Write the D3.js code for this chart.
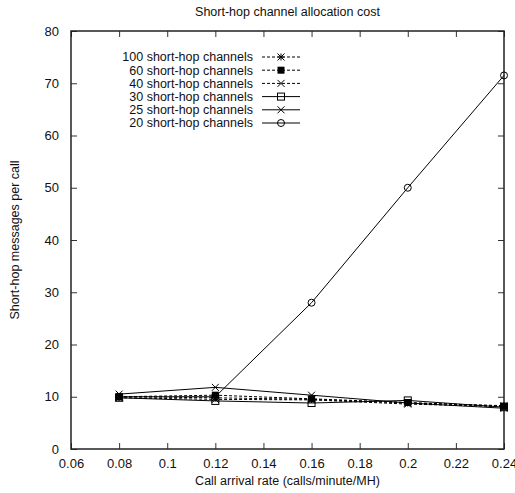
<!DOCTYPE html>
<html>
<head>
<meta charset="utf-8">
<script src="https://cdn.jsdelivr.net/npm/d3@7"></script>
<style>
  body { margin: 0; background: #fff; }
  text { font-family: "Liberation Sans", Arial, sans-serif; }
</style>
</head>
<body>
<div id="chart-area"></div>
<script>
// DATA
const rates = [0.08, 0.12, 0.16, 0.20, 0.24]
const seriesNames = ["100 short-hop channels", "60 short-hop channels", "40 short-hop channels",
  "30 short-hop channels", "25 short-hop channels", "20 short-hop channels"]
const ch100 = [10.0, 9.8, 9.5, 8.8, 8.3]
const ch60 = [10.0, 10.3, 9.6, 8.9, 8.2]
const ch40 = [9.8, 9.5, 9.4, 8.6, 8.1]
const ch30 = [9.8, 9.2, 8.8, 9.3, 8.0]
const ch25 = [10.5, 11.8, 10.3, 8.8, 7.8]
const ch20 = [10.0, 10.0, 28.0, 50.0, 71.5]
const xTicks = [0.06, 0.08, 0.1, 0.12, 0.14, 0.16, 0.18, 0.2, 0.22, 0.24]
const yTicks = [0, 10, 20, 30, 40, 50, 60, 70, 80]

const series = [
  { name: seriesNames[0], values: ch100, dash: "3,2", marker: "star" },
  { name: seriesNames[1], values: ch60, dash: "3,2", marker: "fsquare" },
  { name: seriesNames[2], values: ch40, dash: "3,2", marker: "cross" },
  { name: seriesNames[3], values: ch30, dash: null, marker: "osquare" },
  { name: seriesNames[4], values: ch25, dash: null, marker: "cross" },
  { name: seriesNames[5], values: ch20, dash: null, marker: "circle" }
]

// CHART AREA
const W = 515, H = 493
const margin = { left: 71, right: 11, top: 31, bottom: 44 }
const width = W - margin.left - margin.right
const height = H - margin.top - margin.bottom

const svg = d3.select("#chart-area").append("svg")
  .attr("width", W).attr("height", H)

const chart = svg.append("g")
  .attr("transform", "translate(" + margin.left + "," + margin.top + ")")

const x = d3.scaleLinear().domain([0.06, 0.24]).range([0, width])
const y = d3.scaleLinear().domain([0, 80]).range([height, 0])

// ticks inward on all four sides, gnuplot style
const tick = 6
chart.append("g").attr("transform", "translate(0," + height + ")")
  .call(d3.axisBottom(x).tickValues(xTicks).tickSize(-tick).tickPadding(10).tickFormat(d3.format("")))
chart.append("g").call(d3.axisTop(x).tickValues(xTicks).tickSize(-tick).tickFormat(""))
chart.append("g")
  .call(d3.axisLeft(y).tickValues(yTicks).tickSize(-tick).tickPadding(12))
chart.append("g").attr("transform", "translate(" + width + ",0)")
  .call(d3.axisRight(y).tickValues(yTicks).tickSize(-tick).tickFormat(""))

chart.selectAll(".domain").remove()
chart.selectAll(".tick line").attr("stroke", "#333")
chart.selectAll(".tick text").attr("font-size", "13px").attr("fill", "#111")
  .attr("font-family", "Liberation Sans, Arial, sans-serif")

chart.append("rect")
  .attr("width", width).attr("height", height)
  .attr("fill", "none").attr("stroke", "#222").attr("stroke-width", 1.5)

// MARKERS
function drawMarker(g, kind, cx, cy) {
  const s = 3.5
  if (kind === "star") {
    g.append("path").attr("d",
      `M${cx - s},${cy - s}L${cx + s},${cy + s}M${cx - s},${cy + s}L${cx + s},${cy - s}M${cx},${cy - s}L${cx},${cy + s}M${cx - s},${cy}L${cx + s},${cy}`)
      .attr("stroke", "#000").attr("stroke-width", 1)
  } else if (kind === "cross") {
    g.append("path").attr("d",
      `M${cx - s},${cy - s}L${cx + s},${cy + s}M${cx - s},${cy + s}L${cx + s},${cy - s}`)
      .attr("stroke", "#000").attr("stroke-width", 1)
  } else if (kind === "fsquare") {
    g.append("rect").attr("x", cx - s).attr("y", cy - s).attr("width", 2 * s).attr("height", 2 * s)
      .attr("fill", "#000")
  } else if (kind === "osquare") {
    g.append("rect").attr("x", cx - s).attr("y", cy - s).attr("width", 2 * s).attr("height", 2 * s)
      .attr("fill", "none").attr("stroke", "#000").attr("stroke-width", 1)
  } else if (kind === "circle") {
    g.append("circle").attr("cx", cx).attr("cy", cy).attr("r", s)
      .attr("fill", "none").attr("stroke", "#000").attr("stroke-width", 1)
  }
}

// LINES
const line = d3.line()
  .x((d, i) => x(rates[i]))
  .y(d => y(d))

series.forEach(s => {
  const g = chart.append("g")
  g.append("path")
    .attr("d", line(s.values))
    .attr("fill", "none")
    .attr("stroke", "#000")
    .attr("stroke-width", 1)
    .attr("stroke-dasharray", s.dash)
  s.values.forEach((v, i) => drawMarker(g, s.marker, x(rates[i]), y(v)))
})

// LEGEND
const legend = chart.append("g").attr("transform", "translate(0,26)")
series.forEach((s, i) => {
  const ly = i * 13.2
  const g = legend.append("g")
  g.append("text")
    .attr("x", 182).attr("y", ly).attr("dy", "0.35em")
    .attr("text-anchor", "end").attr("font-size", "12.5px").attr("fill", "#111")
    .text(s.name)
  g.append("line")
    .attr("x1", 191).attr("x2", 229).attr("y1", ly).attr("y2", ly)
    .attr("stroke", "#000").attr("stroke-width", 1)
    .attr("stroke-dasharray", s.dash)
  drawMarker(g, s.marker, 210, ly)
})

// LABELS
svg.append("text")
  .attr("x", margin.left + width / 2).attr("y", 16)
  .attr("text-anchor", "middle").attr("font-size", "12.5px").attr("fill", "#111")
  .text("Short-hop channel allocation cost")

svg.append("text")
  .attr("x", margin.left + width / 2).attr("y", H - 8)
  .attr("text-anchor", "middle").attr("font-size", "12.5px").attr("fill", "#111")
  .text("Call arrival rate (calls/minute/MH)")

svg.append("text")
  .attr("transform", "rotate(-90)")
  .attr("x", -(margin.top + height / 2)).attr("y", 19)
  .attr("text-anchor", "middle").attr("font-size", "12.5px").attr("fill", "#111")
  .text("Short-hop messages per call")
</script>
</body>
</html>
